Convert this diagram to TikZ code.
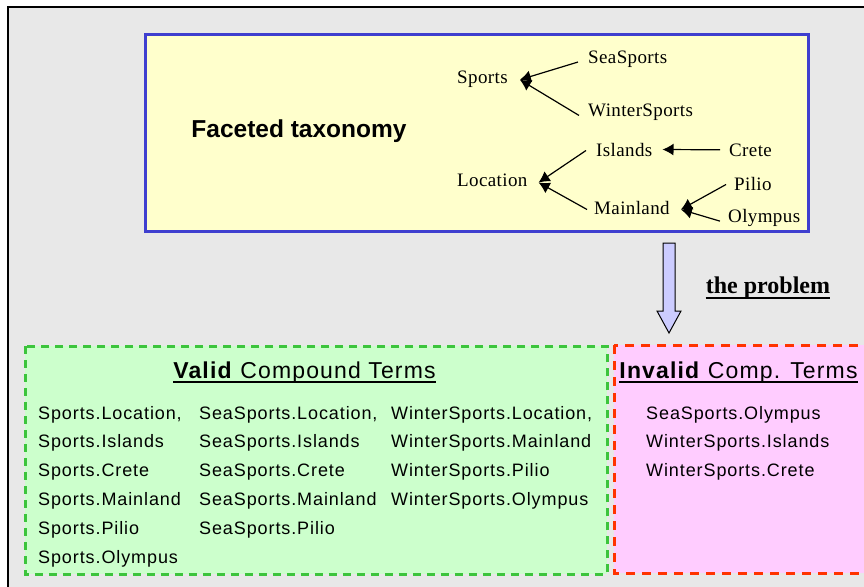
\documentclass[tikz,border=0pt]{standalone}
\usepackage{fontspec}
\setmainfont{Liberation Serif}
\newfontfamily\arialf{Liberation Sans}
\newfontfamily\listf[LetterSpace=5]{Liberation Sans}
\newfontfamily\headf[LetterSpace=5]{Liberation Sans}
\newfontfamily\taxf[LetterSpace=2]{Liberation Serif}
\usetikzlibrary{arrows.meta}
\definecolor{bggray}{HTML}{E8E8E8}
\definecolor{yelfill}{HTML}{FFFFCC}
\definecolor{bluebd}{HTML}{3F3FCF}
\definecolor{grnfill}{HTML}{CCFFCC}
\definecolor{grnbd}{HTML}{3CC43C}
\definecolor{pnkfill}{HTML}{FFCCFF}
\definecolor{redbd}{HTML}{FF3300}
\definecolor{arrfill}{HTML}{CCCCFF}
\tikzset{
  tax/.style={font=\taxf\fontsize{19}{22}\selectfont, inner sep=0pt, anchor=base west},
  taxline/.style={line width=1.2pt, -{Latex[length=11pt,width=12pt]}},
  item/.style={font=\listf\fontsize{18}{21}\selectfont, inner sep=0pt, anchor=base west},
  head/.style={font=\headf\fontsize{23}{26}\selectfont, inner sep=0pt, anchor=base},
  uline/.style={line width=2pt},
}
\begin{document}
\begin{tikzpicture}[x=1pt,y=-1pt]
\useasboundingbox (0,0) rectangle (864,586);
\clip (0,0) rectangle (864,586);
\fill[white] (0,0) rectangle (864,586);
\draw[line width=2pt, fill=bggray] (8,7) rectangle (900,620);

% yellow box
\draw[bluebd, line width=3pt, fill=yelfill] (145,35) rectangle (808,231);
\node[font=\arialf\bfseries\fontsize{24.5}{28}\selectfont, inner sep=0pt, anchor=base] (ft) at (299,137) {Faceted taxonomy};

% taxonomy nodes
\node[tax] (sports) at (457,83) {Sports};
\node[tax] (sea) at (588,63.3) {SeaSports};
\node[tax] (winter) at (588,116.7) {WinterSports};
\node[tax] (loc) at (457,186.7) {Location};
\node[tax] (isl) at (596,156) {Islands};
\node[tax] (crete) at (729,156) {Crete};
\node[tax] (main) at (594,214) {Mainland};
\node[tax] (pilio) at (734,190) {Pilio};
\node[tax] (oly) at (728,222.7) {Olympus};

\draw[taxline] ([xshift=-10pt,yshift=-3pt]sea.west) -- ([xshift=12pt,yshift=-1pt]sports.east);
\draw[taxline] ([xshift=-9pt,yshift=-3pt]winter.west) -- ([xshift=12pt,yshift=-1pt]sports.east);
\draw[taxline] ([xshift=-10pt,yshift=-1pt]isl.west) -- ([xshift=11pt,yshift=-2pt]loc.east);
\draw[taxline] ([xshift=-7pt,yshift=-2pt]main.west) -- ([xshift=11pt,yshift=-2pt]loc.east);
\draw[taxline] ([xshift=-9pt]crete.west) -- ([xshift=10pt]isl.east);
\draw[taxline] ([xshift=-8pt,yshift=-1pt]pilio.west) -- ([xshift=11pt,yshift=-2pt]main.east);
\draw[taxline] ([xshift=-8pt,yshift=-3pt]oly.west) -- ([xshift=11pt,yshift=-2pt]main.east);

% block arrow
\draw[line width=1pt, fill=arrfill, line join=miter]
  (663,243) -- (675,243) -- (675,311) -- (681,311) -- (669,333) -- (657,311) -- (663,311) -- cycle;
\node[font=\bfseries\fontsize{24}{27}\selectfont, inner sep=0pt, anchor=base] (prob) at (768,293) {the problem};
\draw[line width=1.6pt] ([yshift=-5pt]prob.base west) -- ([yshift=-5pt]prob.base east);

% green box
\draw[grnbd, line width=3pt, dash pattern=on 8pt off 6pt, fill=grnfill] (25,346) rectangle (607,574);
% pink box
\draw[redbd, line width=3pt, dash pattern=on 9pt off 7pt, fill=pnkfill] (614,345) rectangle (900,573);

\node[head] (vh) at (304.5,378.3) {\textbf{Valid} Compound Terms};
\draw[uline] ([yshift=-3.5pt]vh.base west) -- ([yshift=-3.5pt]vh.base east);
\node[head] (ih) at (738.5,378.3) {\textbf{Invalid} Comp. Terms};
\draw[uline] ([yshift=-3.5pt]ih.base west) -- ([yshift=-3.5pt]ih.base east);

% valid list
\node[item] (a1) at (38,419) {Sports.Location,};
\node[item] (a2) at (38,447.8) {Sports.Islands};
\node[item] (a3) at (38,476.6) {Sports.Crete};
\node[item] (a4) at (38,505.4) {Sports.Mainland};
\node[item] (a5) at (38,534.2) {Sports.Pilio};
\node[item] (a6) at (38,563) {Sports.Olympus};
\node[item] (b1) at (199,419) {SeaSports.Location,};
\node[item] (b2) at (199,447.8) {SeaSports.Islands};
\node[item] (b3) at (199,476.6) {SeaSports.Crete};
\node[item] (b4) at (199,505.4) {SeaSports.Mainland};
\node[item] (b5) at (199,534.2) {SeaSports.Pilio};
\node[item] (c1) at (391,419) {WinterSports.Location,};
\node[item] (c2) at (391,447.8) {WinterSports.Mainland};
\node[item] (c3) at (391,476.6) {WinterSports.Pilio};
\node[item] (c4) at (391,505.4) {WinterSports.Olympus};

% invalid list
\node[item] (d1) at (646,419) {SeaSports.Olympus};
\node[item] (d2) at (646,447.8) {WinterSports.Islands};
\node[item] (d3) at (646,476.6) {WinterSports.Crete};
\end{tikzpicture}
\end{document}
